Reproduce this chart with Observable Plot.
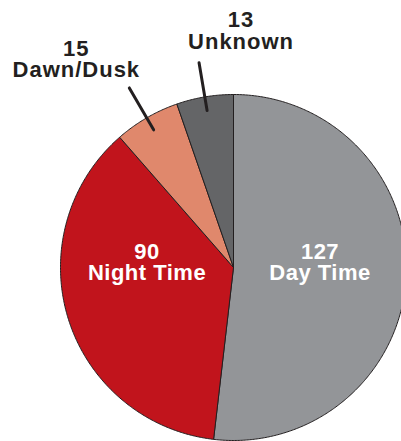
<!DOCTYPE html>
<html>
<head>
<meta charset="utf-8">
<script src="https://cdn.jsdelivr.net/npm/d3@7"></script>
<script src="https://cdn.jsdelivr.net/npm/@observablehq/plot@0.6"></script>
<style>
  html, body { margin: 0; padding: 0; background: #fff; overflow: hidden; }
</style>
</head>
<body>
<div id="chart"></div>
<script>
const categories = ["Day Time", "Night Time", "Dawn/Dusk", "Unknown"];
const counts = [127, 90, 15, 13];
const colors = ["#939598", "#c1141c", "#e0886c", "#646567"];
const insideLabel = [true, true, false, false];

const W = 401, H = 441;
const R = 173, CX = 233, CY = 267;

const table = categories.map((c, i) => ({category: c, count: counts[i], inside: insideLabel[i]}));
const arcs = d3.pie().sort(null).value(d => d.count)(table);

// polygon points for each slice (angles clockwise from 12 o'clock)
const pts = [];
for (const a of arcs) {
  const cat = a.data.category;
  pts.push({category: cat, x: 0, y: 0});
  const n = Math.max(2, Math.ceil((a.endAngle - a.startAngle) / (Math.PI / 360)));
  for (let k = 0; k <= n; k++) {
    const t = a.startAngle + (a.endAngle - a.startAngle) * k / n;
    pts.push({category: cat, x: Math.sin(t), y: Math.cos(t)});
  }
  pts.push({category: cat, x: 0, y: 0});
}

const mid = a => (a.startAngle + a.endAngle) / 2;

// inside labels: placed left/right of centre, slightly above
const inside = arcs.filter(a => a.data.inside).map(a => ({
  text: `${a.data.count}\n${a.data.category}`,
  x: Math.sign(Math.sin(mid(a))) * 0.5,
  y: 0.03
}));

// leader lines for outside labels
const leaders = [];
const outside = [];
for (const a of arcs.filter(a => !a.data.inside)) {
  const m = mid(a);
  leaders.push({category: a.data.category, x: 0.92 * Math.sin(m), y: 0.92 * Math.cos(m)});
  leaders.push({category: a.data.category, x: 1.2 * Math.sin(m), y: 1.2 * Math.cos(m)});
  outside.push({category: a.data.category, text: `${a.data.count}\n${a.data.category}`, x: 1.2 * Math.sin(m), y: 1.2 * Math.cos(m)});
}

const font = "'Liberation Sans', Arial, Helvetica, sans-serif";

const chart = Plot.plot({
  width: W,
  height: H,
  margin: 0,
  x: {domain: [-CX / R, (W - CX) / R], range: [0, W], axis: null},
  y: {domain: [-(H - CY) / R, CY / R], range: [H, 0], axis: null},
  color: {domain: categories, range: colors},
  style: {overflow: "hidden", background: "#fff"},
  marks: [
    Plot.line(pts, {x: "x", y: "y", z: "category", fill: "category", stroke: "#231f20", strokeWidth: 1, strokeLinejoin: "round"}),
    Plot.line(leaders, {x: "x", y: "y", z: "category", stroke: "#231f20", strokeWidth: 3}),
    Plot.text(inside, {x: "x", y: "y", text: "text", fill: "white", fontSize: 22, fontWeight: "bold", fontFamily: font, lineHeight: 0.96, textAnchor: "middle", lineAnchor: "middle"}),
    Plot.text(outside.filter(d => d.category === "Dawn/Dusk"), {x: "x", y: "y", text: "text", fill: "#231f20", fontSize: 22, fontWeight: "bold", fontFamily: font, lineHeight: 0.97, textAnchor: "middle", lineAnchor: "middle", dx: -53, dy: -28}),
    Plot.text(outside.filter(d => d.category === "Unknown"), {x: "x", y: "y", text: "text", fill: "#231f20", fontSize: 22, fontWeight: "bold", fontFamily: font, lineHeight: 1.03, textAnchor: "middle", lineAnchor: "middle", dx: 42, dy: -32})
  ]
});
const textGroups = chart.querySelectorAll('g[aria-label="text"]');
textGroups.forEach((g, i) => g.setAttribute("letter-spacing", i === 0 ? "0.5" : "1"));
document.getElementById("chart").appendChild(chart);
</script>
</body>
</html>
